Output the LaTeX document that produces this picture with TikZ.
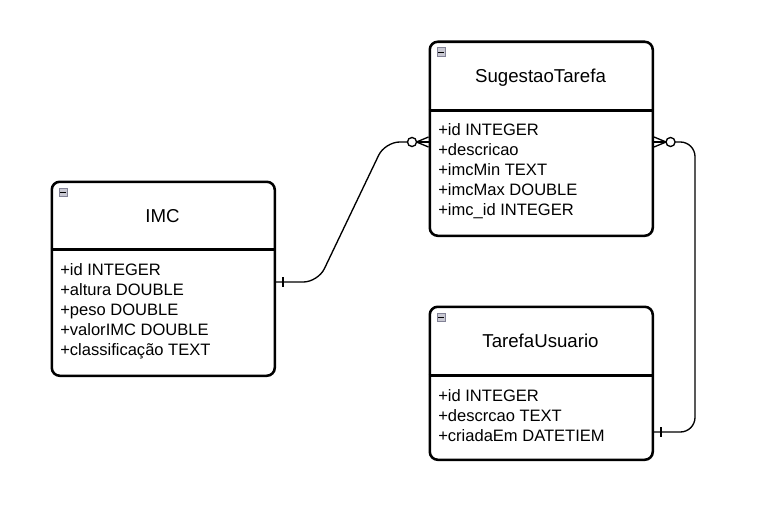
\documentclass[tikz,border=0pt]{standalone}
\usepackage{fontspec}
\setmainfont{Liberation Sans}
\usetikzlibrary{calc}
\definecolor{iconfill}{RGB}{200,200,210}
\definecolor{iconedge}{RGB}{130,130,150}
\begin{document}
\begin{tikzpicture}[x=0.75pt,y=-0.75pt,
  entity/.style={draw=black, line width=1.9pt, rounded corners=6pt, fill=white,
    anchor=north west, minimum width=167.25pt, inner sep=0pt},
  divider/.style={draw=black, line width=1.9pt},
  title/.style={font=\fontsize{14}{16}\selectfont, anchor=base, inner sep=0pt},
  attr/.style={font=\fontsize{12.4}{14}\selectfont, anchor=base west, inner sep=0pt},
  conn/.style={draw=black, line width=1pt, rounded corners=11pt},
  endmark/.style={draw=black, line width=1pt},
  icon/.style={draw=iconedge, fill=iconfill, line width=0.6pt, minimum width=6.5pt,
    minimum height=6.5pt, inner sep=0pt, anchor=north west}
]
\path[use as bounding box, fill=white] (0,0) rectangle (773,510);

% ---------- IMC ----------
\node[entity, minimum height=145.5pt] (imc) at (50.5,180.5) {};
\draw[divider] ($(imc.north west)+(0,69)$) -- ($(imc.north east)+(0,69)$);
\node[icon] (imcicon) at ($(imc.north west)+(8,7)$) {};
\draw[black, line width=0.8pt] ($(imcicon.west)+(1.5,0)$) -- ($(imcicon.east)+(-1.5,0)$);
\node[title] (imct) at (162.5,222) {IMC};
\node[attr] (imca1) at (60,275) {+id INTEGER};
\node[attr] (imca2) at (60,295) {+altura DOUBLE};
\node[attr] (imca3) at (60,315) {+peso DOUBLE};
\node[attr] (imca4) at (60,335) {+valorIMC DOUBLE};
\node[attr] (imca5) at (60,355) {+classificação TEXT};

% ---------- SugestaoTarefa ----------
\node[entity, minimum height=145.5pt] (sug) at (428.5,40.5) {};
\draw[divider] ($(sug.north west)+(0,70)$) -- ($(sug.north east)+(0,70)$);
\node[icon] (sugicon) at ($(sug.north west)+(8,7)$) {};
\draw[black, line width=0.8pt] ($(sugicon.west)+(1.5,0)$) -- ($(sugicon.east)+(-1.5,0)$);
\node[title] (sugt) at (540.5,82) {SugestaoTarefa};
\node[attr] (suga1) at (438,135) {+id INTEGER};
\node[attr] (suga2) at (438,155) {+descricao};
\node[attr] (suga3) at (438,175) {+imcMin TEXT};
\node[attr] (suga4) at (438,195) {+imcMax DOUBLE};
\node[attr] (suga5) at (438,215) {+imc\_id INTEGER};

% ---------- TarefaUsuario ----------
\node[entity, minimum height=114.75pt] (tar) at (428.5,305.5) {};
\draw[divider] ($(tar.north west)+(0,70)$) -- ($(tar.north east)+(0,70)$);
\node[icon] (taricon) at ($(tar.north west)+(8,7)$) {};
\draw[black, line width=0.8pt] ($(taricon.west)+(1.5,0)$) -- ($(taricon.east)+(-1.5,0)$);
\node[title] (tart) at (540.5,347) {TarefaUsuario};
\node[attr] (tara1) at (438,401) {+id INTEGER};
\node[attr] (tara2) at (438,421) {+descrcao TEXT};
\node[attr] (tara3) at (438,441) {+criadaEm DATETIEM};

% ---------- connector IMC -> SugestaoTarefa ----------
\coordinate (c1a) at ($(imc.north east)+(0,101.5)$);
\coordinate (c1b) at ($(sug.north west)+(0,101.5)$);
\draw[conn] (c1a) -- (318,282) -- (385,142) -- ($(c1b)+(-21,0)$);
\draw[endmark] ($(c1a)+(7,-5)$) -- ($(c1a)+(7,5)$);
\draw[endmark, fill=white] ($(c1b)+(-16.5,0)$) circle[radius=3.4pt];
\draw[endmark] ($(c1b)+(-12,0)$) -- (c1b);
\draw[endmark] ($(c1b)+(-12,0)$) -- ($(c1b)+(0,-5)$);
\draw[endmark] ($(c1b)+(-12,0)$) -- ($(c1b)+(0,5)$);

% ---------- connector SugestaoTarefa -> TarefaUsuario ----------
\coordinate (c2a) at ($(sug.north east)+(0,101.5)$);
\coordinate (c2b) at ($(tar.north east)+(0,126.5)$);
\draw[conn] ($(c2a)+(21,0)$) -- (695,142) -- (695,432) -- (c2b);
\draw[endmark] ($(c2b)+(7,-5)$) -- ($(c2b)+(7,5)$);
\draw[endmark, fill=white] ($(c2a)+(16.5,0)$) circle[radius=3.4pt];
\draw[endmark] ($(c2a)+(12,0)$) -- (c2a);
\draw[endmark] ($(c2a)+(12,0)$) -- ($(c2a)+(0,-5)$);
\draw[endmark] ($(c2a)+(12,0)$) -- ($(c2a)+(0,5)$);
\end{tikzpicture}
\end{document}
